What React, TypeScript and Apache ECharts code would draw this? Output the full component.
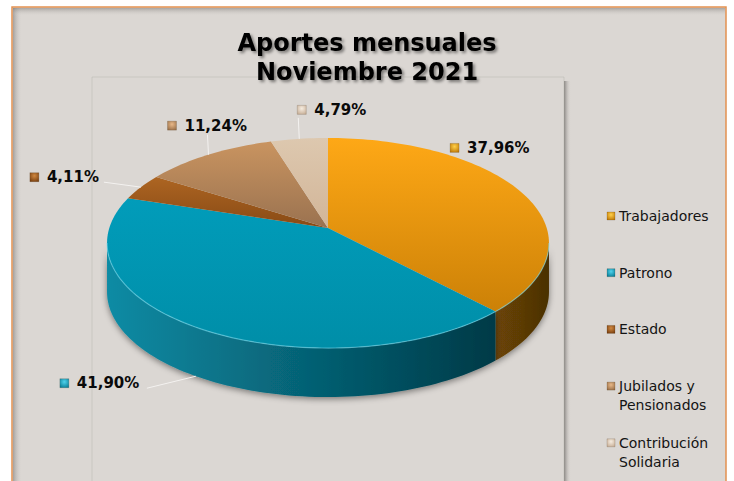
import React, { useEffect, useRef } from 'react';
import * as echarts from 'echarts';

const TITLE_LINES = ['Aportes mensuales', 'Noviembre 2021'];
const CATEGORIES = ['Trabajadores', 'Patrono', 'Estado', 'Jubilados y Pensionados', 'Contribución Solidaria'];
const LEGEND_LABELS = ['Trabajadores', 'Patrono', 'Estado', 'Jubilados y\nPensionados', 'Contribución\nSolidaria'];
const VALUES = [37.96, 41.9, 4.11, 11.24, 4.79];

// styles
const TOP_COLORS = [
  ['#fea816', '#cc8107'],
  ['#019cba', '#008ea8'],
  ['#ad6522', '#884a15'],
  ['#c99460', '#9a7250'],
  ['#ddc8af', '#d2b598'],
];
const SIDE_COLORS = [
  ['#6c4507', '#4a3005'],
  ['#0c8ba4', '#003a47'],
  ['#6a3a0e', '#4a280a'],
  ['#7a5a3e', '#5a412c'],
  ['#a89078', '#8c7560'],
];
const MARKER_COLORS = [
  ['#ffd04a', '#c07a08'],
  ['#4fd2ec', '#0a7f98'],
  ['#d08840', '#7a4010'],
  ['#e8b888', '#9a7048'],
  ['#f6ece0', '#c8b098'],
];
// label placement relative to slice anchor (style/layout)
const LABEL_LAYOUT = [
  { dx: -71, dy: -44, leader: null as null | number[] },
  { dx: -136, dy: 7, leader: [87, 5] },
  { dx: -111, dy: -10, leader: [74, 5] },
  { dx: -41, dy: -29, leader: [40, 9] },
  { dx: -2, dy: -29, leader: [1, 8] },
];

// perspective ellipse geometry
const CX = 328;
const AY = 228;
const A = 218.7;
const B = 102.9;
const P = 0.1429;
const DEPTH = 49;
const FONT = 'DejaVu Sans, Verdana, sans-serif';

function pt(t: number, extra = 0): number[] {
  const u = Math.sin(t);
  const v = Math.cos(t);
  const z = 1 + P * v;
  return [CX + (A * u) / z, AY - (B * v) / z + extra];
}
function arc(a: number, b: number, extra = 0): number[][] {
  const n = Math.max(2, Math.ceil((b - a) / (Math.PI / 120)));
  const out: number[][] = [];
  for (let i = 0; i <= n; i++) out.push(pt(a + ((b - a) * i) / n, extra));
  return out;
}

export default function App() {
  const ref = useRef<HTMLDivElement>(null);
  useEffect(() => {
    document.body.style.margin = '0';
    const chart = echarts.init(ref.current!, undefined, { renderer: 'svg' });
    const total = VALUES.reduce((s, v) => s + v, 0);
    let cum = 0;
    const data = VALUES.map((v, i) => {
      const d = { name: CATEGORIES[i], value: [cum, v] };
      cum += v;
      return d;
    });
    const frontStart = Math.acos(-P);
    const frontEnd = Math.PI * 2 - frontStart;

    const renderItem = (params: any, api: any) => {
      const i = params.dataIndex;
      const start = api.value(0);
      const val = api.value(1);
      const a = (start / total) * Math.PI * 2;
      const b = ((start + val) / total) * Math.PI * 2;
      const children: any[] = [];
      // side wall (front half only)
      const s = Math.max(a, frontStart);
      const e = Math.min(b, frontEnd);
      if (e > s) {
        const topArc = arc(s, e);
        const botArc = arc(s, e, DEPTH).reverse();
        children.push({
          type: 'polygon',
          z2: 1,
          shape: { points: topArc.concat(botArc) },
          style: {
            fill: {
              type: 'linear', x: 0, y: 0, x2: 1, y2: 0,
              colorStops: [
                { offset: 0, color: SIDE_COLORS[i][0] },
                { offset: 1, color: SIDE_COLORS[i][1] },
              ],
            },
            shadowBlur: 6,
            shadowColor: 'rgba(0,0,0,0.45)',
            shadowOffsetY: 2,
          },
        });
        children.push({
          type: 'polyline',
          z2: 6,
          shape: { points: arc(s, e) },
          style: { stroke: 'rgba(120,220,240,0.55)', lineWidth: 1.2, fill: null },
        });
      }
      // top face
      children.push({
        type: 'polygon',
        z2: 5,
        shape: { points: [[CX, AY]].concat(arc(a, b)) },
        style: {
          fill: {
            type: 'linear', x: 0, y: 0, x2: 0, y2: 1,
            colorStops: [
              { offset: 0, color: TOP_COLORS[i][0] },
              { offset: 1, color: TOP_COLORS[i][1] },
            ],
          },
        },
      });
      // label
      const m = (a + b) / 2;
      const front = m > frontStart && m < frontEnd;
      const anchor = pt(m, front ? DEPTH : 0);
      const lay = LABEL_LAYOUT[i];
      const lx = anchor[0] + lay.dx;
      const ly = anchor[1] + lay.dy;
      if (lay.leader) {
        children.push({
          type: 'polyline',
          z2: 9,
          shape: { points: [[lx + lay.leader[0], ly + lay.leader[1]], anchor] },
          style: { stroke: '#f4f2f0', lineWidth: 1, fill: null },
        });
      }
      children.push({
        type: 'rect',
        z2: 10,
        shape: { x: lx, y: ly - 4.5, width: 9, height: 9 },
        style: {
          fill: {
            type: 'radial', x: 0.5, y: 0.35, r: 0.7,
            colorStops: [
              { offset: 0, color: MARKER_COLORS[i][0] },
              { offset: 1, color: MARKER_COLORS[i][1] },
            ],
          },
          stroke: 'rgba(60,40,20,0.35)',
          lineWidth: 0.5,
        },
      });
      children.push({
        type: 'text',
        z2: 10,
        x: lx + 17,
        y: ly,
        style: {
          text: val.toFixed(2).replace('.', ',') + '%',
          font: 'bold 15px ' + FONT,
          fill: '#0a0a0a',
          verticalAlign: 'middle',
          align: 'left',
        },
      });
      return { type: 'group', children };
    };

    const legendGraphics: any[] = LEGEND_LABELS.map((lab, i) => {
      const y = 216 + i * 56.7;
      return {
        type: 'group',
        z: 20,
        children: [
          {
            type: 'rect',
            shape: { x: 607, y: y - 4, width: 8, height: 8 },
            style: {
              fill: {
                type: 'radial', x: 0.5, y: 0.35, r: 0.7,
                colorStops: [
                  { offset: 0, color: MARKER_COLORS[i][0] },
                  { offset: 1, color: MARKER_COLORS[i][1] },
                ],
              },
              stroke: 'rgba(60,40,20,0.35)',
              lineWidth: 0.5,
            },
          },
          {
            type: 'text',
            x: 619,
            y: y - 9.5,
            style: {
              text: lab,
              font: '14px ' + FONT,
              lineHeight: 19,
              fill: '#141414',
              verticalAlign: 'top',
              align: 'left',
            },
          },
        ],
      };
    });

    chart.setOption({
      animation: false,
      backgroundColor: '#ffffff',
      title: {
        text: TITLE_LINES.join('\n'),
        left: 'center',
        top: 23,
        textStyle: {
          fontFamily: FONT,
          fontWeight: 'bold',
          fontSize: 24,
          lineHeight: 29,
          color: '#000000',
          textShadowColor: 'rgba(0,0,0,0.45)',
          textShadowBlur: 3,
          textShadowOffsetX: 2,
          textShadowOffsetY: 2,
        },
        z: 20,
      },
      graphic: [
        {
          type: 'rect', z: -10,
          shape: { x: 12, y: 7, width: 714, height: 490 },
          style: { fill: '#dbd7d3', stroke: '#e39150', lineWidth: 1.5 },
        },
        {
          type: 'rect', z: -9,
          shape: { x: 13, y: 8, width: 9, height: 480 },
          style: {
            fill: {
              type: 'linear', x: 0, y: 0, x2: 1, y2: 0,
              colorStops: [
                { offset: 0, color: 'rgba(120,116,112,0.55)' },
                { offset: 1, color: 'rgba(219,215,211,0)' },
              ],
            },
          },
        },
        {
          type: 'rect', z: -9,
          shape: { x: 13, y: 8, width: 712, height: 8 },
          style: {
            fill: {
              type: 'linear', x: 0, y: 0, x2: 0, y2: 1,
              colorStops: [
                { offset: 0, color: 'rgba(120,116,112,0.5)' },
                { offset: 1, color: 'rgba(219,215,211,0)' },
              ],
            },
          },
        },
        {
          type: 'rect', z: -8,
          shape: { x: 564, y: 81, width: 7, height: 420 },
          style: {
            fill: {
              type: 'linear', x: 0, y: 0, x2: 1, y2: 0,
              colorStops: [
                { offset: 0, color: 'rgba(110,106,103,0.75)' },
                { offset: 1, color: 'rgba(219,215,211,0)' },
              ],
            },
          },
        },
        {
          type: 'rect', z: -7,
          shape: { x: 92, y: 77, width: 472, height: 420 },
          style: { fill: '#dbd7d3', stroke: 'rgba(170,165,160,0.35)', lineWidth: 1 },
        },
        ...legendGraphics,
      ],
      series: [
        {
          type: 'custom',
          coordinateSystem: 'none',
          z: 5,
          renderItem,
          data,
        },
      ],
    });
    return () => chart.dispose();
  }, []);
  return <div ref={ref} style={{ width: 734, height: 481 }} />;
}
